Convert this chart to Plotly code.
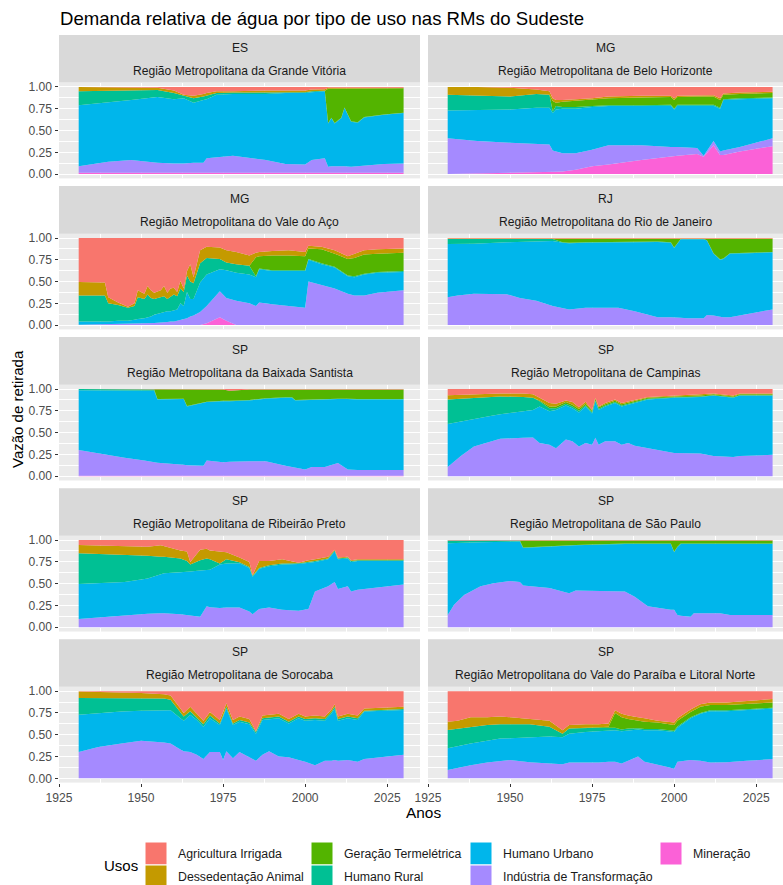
import plotly.graph_objects as go

# ---------------- data (shares of withdrawal by use) ----------------
USOS = ["Mineração", "Indústria de Transformação", "Humano Urbano", "Humano Rural",
        "Geração Termelétrica", "Dessedentação Animal", "Agricultura Irrigada"]
CORES = {"Agricultura Irrigada": "#F8766D", "Dessedentação Animal": "#C49A00",
         "Geração Termelétrica": "#53B400", "Humano Rural": "#00C094",
         "Humano Urbano": "#00B6EB", "Indústria de Transformação": "#A58AFF",
         "Mineração": "#FB61D7"}
X_TICKS = [1925, 1950, 1975, 2000, 2025]
Y_TICKS = [0.0, 0.25, 0.5, 0.75, 1.0]

# ES - Grande Vitória
VIT_ANOS = [1931, 1940, 1947, 1955, 1960, 1963, 1966, 1969, 1970, 1973, 1978, 1988, 1994, 2000, 2002, 2006, 2007, 2008, 2009, 2011, 2012, 2014, 2016, 2018, 2024, 2030]
VIT_MIN = [0.015, 0.015, 0.015, 0.015, 0.015, 0.015, 0.015, 0.015, 0.015, 0.015, 0.015, 0.015, 0.015, 0.015, 0.015, 0.015, 0.015, 0.015, 0.015, 0.015, 0.015, 0.015, 0.015, 0.015, 0.015, 0.015]
VIT_IND = [0.075, 0.125, 0.145, 0.115, 0.105, 0.105, 0.115, 0.115, 0.165, 0.175, 0.195, 0.145, 0.10, 0.095, 0.145, 0.165, 0.07, 0.075, 0.075, 0.08, 0.075, 0.07, 0.075, 0.085, 0.10, 0.105]
VIT_URB = [0.70, 0.68, 0.69, 0.755, 0.74, 0.75, 0.69, 0.72, 0.68, 0.72, 0.71, 0.76, 0.815, 0.82, 0.78, 0.77, 0.495, 0.55, 0.49, 0.545, 0.67, 0.515, 0.50, 0.55, 0.565, 0.58]
VIT_RUR = [0.16, 0.135, 0.11, 0.08, 0.07, 0.03, 0.05, 0.04, 0.04, 0.02, 0.015, 0.015, 0.01, 0.01, 0.01, 0.005, 0.005, 0.005, 0.005, 0.005, 0.005, 0.005, 0.005, 0.005, 0.005, 0.005]
VIT_TER = [0, 0, 0, 0, 0, 0, 0, 0, 0, 0, 0, 0, 0, 0, 0, 0, 0.395, 0.335, 0.395, 0.34, 0.22, 0.38, 0.39, 0.33, 0.30, 0.28]
VIT_DES = [0.05, 0.045, 0.035, 0.025, 0.03, 0.01, 0.03, 0.03, 0.03, 0.02, 0.015, 0.025, 0.02, 0.02, 0.02, 0.02, 0.01, 0.01, 0.01, 0.005, 0.005, 0.005, 0.005, 0.005, 0.005, 0.005]
VIT_AGR = [0, 0, 0.005, 0.01, 0.04, 0.09, 0.10, 0.08, 0.07, 0.05, 0.05, 0.04, 0.04, 0.04, 0.03, 0.025, 0.01, 0.01, 0.01, 0.01, 0.01, 0.01, 0.01, 0.01, 0.01, 0.01]

# MG - Belo Horizonte
BH_ANOS = [1931, 1940, 1950, 1958, 1962, 1963, 1964, 1966, 1970, 1975, 1980, 1990, 1999, 2000, 2001, 2007, 2009, 2012, 2014, 2015, 2020, 2030]
BH_MIN = [0.0, 0.005, 0.01, 0.015, 0.02, 0.02, 0.025, 0.03, 0.05, 0.09, 0.11, 0.16, 0.20, 0.21, 0.21, 0.23, 0.20, 0.33, 0.22, 0.22, 0.26, 0.32]
BH_IND = [0.41, 0.375, 0.35, 0.33, 0.32, 0.25, 0.235, 0.21, 0.19, 0.19, 0.22, 0.17, 0.11, 0.10, 0.10, 0.07, 0.01, 0.05, 0.04, 0.05, 0.05, 0.09]
BH_URB = [0.32, 0.355, 0.38, 0.415, 0.42, 0.43, 0.48, 0.51, 0.51, 0.49, 0.45, 0.45, 0.475, 0.43, 0.475, 0.485, 0.575, 0.405, 0.49, 0.58, 0.55, 0.46]
BH_RUR = [0.18, 0.165, 0.15, 0.16, 0.15, 0.02, 0.04, 0.02, 0.02, 0.01, 0.01, 0.01, 0.01, 0.01, 0.01, 0.01, 0.01, 0.01, 0.01, 0.01, 0.01, 0.01]
BH_TER = [0, 0, 0, 0, 0, 0.12, 0.04, 0.06, 0.07, 0.07, 0.08, 0.09, 0.09, 0.10, 0.09, 0.095, 0.095, 0.095, 0.09, 0.05, 0.05, 0.05]
BH_DES = [0.09, 0.10, 0.10, 0.05, 0.04, 0.03, 0.03, 0.02, 0.02, 0.02, 0.02, 0.02, 0.015, 0.02, 0.015, 0.015, 0.015, 0.015, 0.02, 0.015, 0.015, 0.015]
BH_AGR = [0, 0, 0.01, 0.03, 0.05, 0.13, 0.15, 0.15, 0.14, 0.13, 0.11, 0.10, 0.10, 0.13, 0.10, 0.095, 0.095, 0.095, 0.13, 0.075, 0.065, 0.055]

# MG - Vale do Aço
VDA_ANOS = [1931, 1939, 1940, 1943, 1946, 1948, 1949, 1951, 1952, 1953, 1954, 1956, 1957, 1958, 1959, 1960, 1961, 1962, 1963, 1964, 1965, 1966, 1968, 1970, 1974, 1976, 1979, 1983, 1985, 1986, 1990, 1995, 2000, 2001, 2005, 2009, 2013, 2015, 2018, 2022, 2030]
VDA_MIN = [0, 0, 0, 0, 0, 0, 0, 0, 0, 0, 0, 0, 0, 0, 0, 0, 0, 0, 0, 0, 0, 0, 0, 0.02, 0.09, 0.05, 0, 0, 0, 0, 0, 0, 0, 0, 0, 0, 0, 0, 0, 0, 0]
VDA_IND = [0.005, 0.01, 0.01, 0.012, 0.015, 0.015, 0.02, 0.02, 0.02, 0.025, 0.025, 0.03, 0.03, 0.035, 0.04, 0.04, 0.05, 0.06, 0.07, 0.08, 0.10, 0.11, 0.15, 0.20, 0.30, 0.26, 0.28, 0.25, 0.22, 0.26, 0.24, 0.22, 0.20, 0.50, 0.46, 0.42, 0.36, 0.34, 0.34, 0.37, 0.40]
VDA_URB = [0.035, 0.03, 0.03, 0.038, 0.035, 0.045, 0.05, 0.06, 0.07, 0.075, 0.095, 0.11, 0.12, 0.125, 0.12, 0.13, 0.13, 0.19, 0.15, 0.30, 0.20, 0.19, 0.34, 0.36, 0.25, 0.32, 0.32, 0.33, 0.33, 0.38, 0.38, 0.40, 0.42, 0.25, 0.24, 0.24, 0.20, 0.21, 0.24, 0.23, 0.21]
VDA_RUR = [0.30, 0.30, 0.21, 0.18, 0.15, 0.16, 0.25, 0.22, 0.26, 0.21, 0.18, 0.18, 0.18, 0.14, 0.17, 0.18, 0.15, 0.17, 0.16, 0.19, 0.20, 0.18, 0.22, 0.19, 0.12, 0.09, 0.10, 0.10, 0.01, 0.01, 0.01, 0.01, 0.01, 0.01, 0.01, 0.01, 0.01, 0.01, 0.01, 0.01, 0.01]
VDA_TER = [0, 0, 0, 0, 0, 0, 0, 0, 0, 0, 0, 0, 0, 0, 0, 0, 0, 0, 0, 0, 0, 0, 0, 0, 0, 0, 0, 0, 0.22, 0.14, 0.17, 0.17, 0.16, 0.12, 0.16, 0.15, 0.19, 0.21, 0.22, 0.21, 0.21]
VDA_DES = [0.155, 0.15, 0.07, 0.03, 0.01, 0.03, 0.08, 0.06, 0.10, 0.09, 0.07, 0.08, 0.12, 0.07, 0.09, 0.08, 0.05, 0.09, 0.04, 0.05, 0.20, 0.07, 0.15, 0.13, 0.13, 0.14, 0.14, 0.12, 0.05, 0.05, 0.05, 0.06, 0.05, 0.03, 0.03, 0.04, 0.03, 0.05, 0.05, 0.05, 0.05]
VDA_AGR = [0.505, 0.51, 0.68, 0.74, 0.79, 0.75, 0.60, 0.64, 0.55, 0.60, 0.63, 0.60, 0.55, 0.63, 0.58, 0.57, 0.62, 0.49, 0.58, 0.38, 0.30, 0.45, 0.14, 0.10, 0.11, 0.14, 0.16, 0.20, 0.17, 0.16, 0.15, 0.14, 0.16, 0.09, 0.10, 0.14, 0.21, 0.18, 0.14, 0.13, 0.12]

# RJ - Rio de Janeiro
RJ_ANOS = [1931, 1934, 1939, 1949, 1953, 1958, 1963, 1966, 1968, 1973, 1983, 1988, 1995, 1999, 2000, 2002, 2004, 2009, 2010, 2012, 2014, 2015, 2017, 2025, 2030]
RJ_MIN = [0, 0, 0, 0, 0, 0, 0, 0, 0, 0, 0, 0, 0, 0, 0, 0, 0, 0, 0, 0, 0, 0, 0, 0, 0]
RJ_IND = [0.32, 0.34, 0.36, 0.355, 0.31, 0.28, 0.22, 0.20, 0.18, 0.20, 0.20, 0.16, 0.09, 0.09, 0.09, 0.085, 0.08, 0.08, 0.115, 0.11, 0.095, 0.09, 0.09, 0.14, 0.18]
RJ_URB = [0.61, 0.59, 0.575, 0.595, 0.645, 0.68, 0.745, 0.745, 0.76, 0.745, 0.75, 0.795, 0.865, 0.855, 0.795, 0.90, 0.905, 0.905, 0.855, 0.71, 0.655, 0.67, 0.73, 0.69, 0.655]
RJ_RUR = [0.06, 0.06, 0.055, 0.04, 0.035, 0.03, 0.025, 0.005, 0.005, 0.005, 0.005, 0.005, 0.005, 0.005, 0.005, 0.005, 0.005, 0.005, 0.005, 0.005, 0.005, 0.005, 0.005, 0.005, 0.005]
RJ_TER = [0, 0, 0, 0, 0, 0, 0, 0.04, 0.045, 0.04, 0.035, 0.03, 0.03, 0.04, 0.10, 0.0, 0.0, 0.0, 0.015, 0.165, 0.235, 0.225, 0.165, 0.155, 0.15]
RJ_DES = [0.005, 0.005, 0.005, 0.005, 0.005, 0.005, 0.005, 0.005, 0.005, 0.005, 0.005, 0.005, 0.005, 0.005, 0.005, 0.005, 0.005, 0.005, 0.005, 0.005, 0.005, 0.005, 0.005, 0.005, 0.005]
RJ_AGR = [0.005, 0.005, 0.005, 0.005, 0.005, 0.005, 0.005, 0.005, 0.005, 0.005, 0.005, 0.005, 0.005, 0.005, 0.005, 0.005, 0.005, 0.005, 0.005, 0.005, 0.005, 0.005, 0.005, 0.005, 0.005]

# SP - Baixada Santista
BS_ANOS = [1931, 1937, 1945, 1951, 1954, 1955, 1963, 1964, 1969, 1970, 1975, 1977, 1983, 1988, 1994, 1996, 1997, 2000, 2002, 2006, 2010, 2013, 2016, 2030]
BS_MIN = [0.005, 0.005, 0.005, 0.005, 0.005, 0.005, 0.005, 0.005, 0.005, 0.005, 0.005, 0.005, 0.005, 0.005, 0.005, 0.005, 0.005, 0.005, 0.005, 0.005, 0.005, 0.005, 0.005, 0.005]
BS_IND = [0.295, 0.255, 0.205, 0.175, 0.155, 0.15, 0.125, 0.12, 0.115, 0.175, 0.155, 0.16, 0.165, 0.165, 0.115, 0.10, 0.09, 0.07, 0.10, 0.10, 0.145, 0.07, 0.065, 0.065]
BS_URB = [0.685, 0.725, 0.775, 0.805, 0.82, 0.725, 0.755, 0.675, 0.72, 0.67, 0.70, 0.695, 0.70, 0.72, 0.78, 0.795, 0.775, 0.80, 0.775, 0.78, 0.735, 0.81, 0.81, 0.81]
BS_RUR = [0.015, 0.015, 0.015, 0.015, 0.015, 0.005, 0.005, 0.005, 0.005, 0.005, 0.005, 0.005, 0.005, 0.005, 0.005, 0.005, 0.005, 0.005, 0.005, 0.005, 0.005, 0.005, 0.005, 0.005]
BS_TER = [0, 0, 0, 0, 0.005, 0.11, 0.105, 0.19, 0.15, 0.14, 0.13, 0.115, 0.12, 0.10, 0.09, 0.09, 0.12, 0.115, 0.11, 0.105, 0.105, 0.105, 0.11, 0.11]
BS_DES = [0, 0, 0, 0, 0, 0, 0, 0, 0, 0, 0, 0, 0, 0, 0, 0, 0, 0, 0, 0, 0, 0, 0, 0]
BS_AGR = [0, 0, 0, 0, 0, 0.005, 0.005, 0.005, 0.005, 0.005, 0.005, 0.02, 0.005, 0.005, 0.005, 0.005, 0.005, 0.005, 0.005, 0.005, 0.005, 0.005, 0.005, 0.005]

# SP - Campinas
CP_ANOS = [1931, 1935, 1939, 1944, 1947, 1954, 1957, 1959, 1962, 1964, 1967, 1969, 1971, 1973, 1975, 1976, 1977, 1979, 1982, 1984, 1986, 1988, 1992, 2000, 2008, 2012, 2018, 2020, 2030]
CP_MIN = [0, 0, 0, 0, 0, 0, 0, 0, 0, 0, 0, 0, 0, 0, 0, 0, 0, 0, 0, 0, 0, 0, 0, 0, 0, 0, 0, 0, 0]
CP_IND = [0.105, 0.23, 0.34, 0.40, 0.43, 0.44, 0.445, 0.38, 0.36, 0.32, 0.42, 0.40, 0.34, 0.38, 0.36, 0.44, 0.36, 0.40, 0.40, 0.36, 0.38, 0.35, 0.32, 0.265, 0.26, 0.23, 0.22, 0.23, 0.245]
CP_URB = [0.495, 0.40, 0.32, 0.29, 0.28, 0.305, 0.315, 0.42, 0.385, 0.44, 0.39, 0.38, 0.39, 0.42, 0.36, 0.42, 0.40, 0.40, 0.44, 0.44, 0.44, 0.49, 0.56, 0.635, 0.65, 0.695, 0.68, 0.695, 0.68]
CP_RUR = [0.28, 0.26, 0.24, 0.22, 0.205, 0.165, 0.14, 0.06, 0.035, 0.02, 0.02, 0.02, 0.02, 0.015, 0.015, 0.01, 0.015, 0.01, 0.01, 0.01, 0.01, 0.01, 0.01, 0.005, 0.005, 0.005, 0.005, 0.005, 0.005]
CP_TER = [0, 0, 0, 0, 0, 0, 0, 0.01, 0.02, 0.02, 0.02, 0.02, 0.02, 0.015, 0.015, 0.015, 0.015, 0.015, 0.015, 0.015, 0.015, 0.015, 0.01, 0.01, 0.01, 0.01, 0.01, 0.01, 0.01]
CP_DES = [0.05, 0.045, 0.04, 0.035, 0.035, 0.04, 0.04, 0.03, 0.04, 0.03, 0.02, 0.03, 0.02, 0.025, 0.01, 0.015, 0.01, 0.015, 0.015, 0.015, 0.015, 0.01, 0.01, 0.01, 0.01, 0.01, 0.01, 0.01, 0.01]
CP_AGR = [0.07, 0.065, 0.06, 0.055, 0.05, 0.05, 0.06, 0.10, 0.16, 0.17, 0.13, 0.15, 0.21, 0.145, 0.24, 0.10, 0.20, 0.16, 0.12, 0.16, 0.14, 0.125, 0.09, 0.075, 0.065, 0.05, 0.075, 0.05, 0.05]

# SP - Ribeirão Preto
RP_ANOS = [1931, 1939, 1945, 1952, 1956, 1957, 1962, 1964, 1965, 1968, 1970, 1971, 1974, 1976, 1980, 1983, 1984, 1986, 1989, 1993, 1998, 2001, 2003, 2007, 2009, 2010, 2013, 2014, 2016, 2030]
RP_MIN = [0, 0, 0, 0, 0, 0, 0, 0, 0, 0, 0, 0, 0, 0, 0, 0, 0, 0, 0, 0, 0, 0, 0, 0, 0, 0, 0, 0, 0, 0]
RP_IND = [0.095, 0.12, 0.14, 0.155, 0.16, 0.16, 0.15, 0.14, 0.135, 0.12, 0.24, 0.23, 0.22, 0.225, 0.225, 0.18, 0.15, 0.21, 0.225, 0.20, 0.19, 0.21, 0.41, 0.47, 0.52, 0.44, 0.47, 0.41, 0.43, 0.49]
RP_URB = [0.40, 0.385, 0.38, 0.405, 0.45, 0.46, 0.48, 0.50, 0.505, 0.53, 0.42, 0.43, 0.50, 0.505, 0.51, 0.50, 0.43, 0.46, 0.475, 0.52, 0.535, 0.53, 0.34, 0.31, 0.35, 0.34, 0.32, 0.34, 0.33, 0.27]
RP_RUR = [0.355, 0.335, 0.31, 0.26, 0.20, 0.19, 0.16, 0.12, 0.08, 0.12, 0.13, 0.12, 0.01, 0.05, 0.01, 0.01, 0.01, 0.01, 0.01, 0.01, 0.01, 0.01, 0.01, 0.01, 0.01, 0.01, 0.01, 0.01, 0.01, 0.01]
RP_TER = [0, 0, 0, 0, 0, 0, 0, 0, 0, 0, 0, 0, 0, 0, 0, 0, 0, 0, 0, 0, 0, 0, 0, 0, 0, 0, 0, 0, 0, 0]
RP_DES = [0.095, 0.095, 0.10, 0.105, 0.13, 0.12, 0.09, 0.11, 0.03, 0.12, 0.11, 0.10, 0.14, 0.08, 0.055, 0.06, 0.01, 0.08, 0.05, 0.05, 0.005, 0.02, 0.02, 0.02, 0.01, 0.01, 0.01, 0.01, 0.01, 0.01]
RP_AGR = [0.055, 0.065, 0.07, 0.075, 0.06, 0.07, 0.12, 0.13, 0.25, 0.11, 0.10, 0.12, 0.13, 0.14, 0.20, 0.25, 0.40, 0.24, 0.24, 0.22, 0.26, 0.23, 0.22, 0.19, 0.11, 0.20, 0.19, 0.23, 0.22, 0.22]

# SP - São Paulo
SP_ANOS = [1931, 1933, 1936, 1941, 1945, 1950, 1953, 1954, 1962, 1968, 1970, 1985, 1988, 1992, 1999, 2000, 2001, 2002, 2005, 2006, 2014, 2017, 2030]
SP_MIN = [0, 0, 0, 0, 0, 0, 0, 0, 0, 0, 0, 0, 0, 0, 0, 0, 0, 0, 0, 0, 0, 0, 0]
SP_IND = [0.14, 0.26, 0.37, 0.47, 0.505, 0.53, 0.52, 0.48, 0.45, 0.39, 0.42, 0.41, 0.35, 0.24, 0.20, 0.20, 0.14, 0.13, 0.12, 0.16, 0.16, 0.14, 0.14]
SP_URB = [0.825, 0.705, 0.60, 0.505, 0.475, 0.455, 0.465, 0.43, 0.475, 0.545, 0.52, 0.545, 0.605, 0.715, 0.755, 0.66, 0.78, 0.825, 0.835, 0.795, 0.795, 0.815, 0.815]
SP_RUR = [0.03, 0.03, 0.025, 0.02, 0.015, 0.01, 0.01, 0.005, 0.005, 0.005, 0.005, 0.005, 0.005, 0.005, 0.005, 0.005, 0.005, 0.005, 0.005, 0.005, 0.005, 0.005, 0.005]
SP_TER = [0, 0, 0, 0, 0, 0, 0, 0.08, 0.065, 0.055, 0.05, 0.035, 0.035, 0.035, 0.035, 0.13, 0.07, 0.035, 0.035, 0.035, 0.035, 0.035, 0.035]
SP_DES = [0, 0, 0, 0, 0, 0, 0, 0, 0, 0, 0, 0, 0, 0, 0, 0, 0, 0, 0, 0, 0, 0, 0]
SP_AGR = [0.005, 0.005, 0.005, 0.005, 0.005, 0.005, 0.005, 0.005, 0.005, 0.005, 0.005, 0.005, 0.005, 0.005, 0.005, 0.005, 0.005, 0.005, 0.005, 0.005, 0.005, 0.005, 0.005]

# SP - Sorocaba
SO_ANOS = [1931, 1937, 1944, 1950, 1957, 1959, 1962, 1963, 1965, 1967, 1969, 1971, 1974, 1975, 1976, 1978, 1980, 1983, 1985, 1987, 1989, 1992, 1995, 1998, 2000, 2003, 2006, 2008, 2009, 2010, 2013, 2016, 2018, 2030]
SO_MIN = [0, 0, 0, 0, 0, 0, 0, 0, 0, 0, 0, 0, 0, 0, 0, 0, 0, 0, 0, 0, 0, 0, 0, 0, 0, 0, 0, 0, 0, 0, 0, 0, 0, 0]
SO_IND = [0.30, 0.36, 0.40, 0.43, 0.41, 0.40, 0.33, 0.31, 0.30, 0.27, 0.22, 0.30, 0.30, 0.21, 0.31, 0.23, 0.30, 0.24, 0.20, 0.27, 0.31, 0.25, 0.24, 0.21, 0.19, 0.15, 0.20, 0.20, 0.21, 0.20, 0.21, 0.19, 0.22, 0.27]
SO_URB = [0.43, 0.39, 0.365, 0.345, 0.375, 0.38, 0.36, 0.35, 0.43, 0.40, 0.37, 0.39, 0.31, 0.49, 0.49, 0.38, 0.35, 0.38, 0.31, 0.40, 0.37, 0.44, 0.39, 0.48, 0.47, 0.52, 0.46, 0.54, 0.59, 0.46, 0.48, 0.48, 0.545, 0.515]
SO_RUR = [0.19, 0.17, 0.155, 0.145, 0.13, 0.12, 0.07, 0.05, 0.04, 0.03, 0.03, 0.03, 0.02, 0.02, 0.02, 0.02, 0.02, 0.02, 0.02, 0.02, 0.02, 0.02, 0.02, 0.02, 0.02, 0.02, 0.02, 0.02, 0.02, 0.02, 0.02, 0.02, 0.01, 0.01]
SO_TER = [0, 0, 0, 0, 0, 0, 0, 0, 0, 0, 0, 0, 0, 0, 0, 0, 0, 0, 0, 0, 0, 0, 0, 0, 0, 0, 0, 0, 0, 0, 0, 0, 0, 0]
SO_DES = [0.075, 0.07, 0.065, 0.06, 0.05, 0.05, 0.04, 0.04, 0.05, 0.04, 0.04, 0.04, 0.04, 0.04, 0.04, 0.04, 0.04, 0.04, 0.01, 0.03, 0.03, 0.03, 0.03, 0.03, 0.03, 0.03, 0.03, 0.03, 0.03, 0.03, 0.03, 0.03, 0.025, 0.025]
SO_AGR = [0.005, 0.01, 0.015, 0.02, 0.035, 0.05, 0.20, 0.25, 0.18, 0.26, 0.34, 0.24, 0.33, 0.24, 0.14, 0.33, 0.29, 0.32, 0.46, 0.28, 0.27, 0.26, 0.32, 0.26, 0.29, 0.28, 0.29, 0.21, 0.15, 0.29, 0.26, 0.28, 0.20, 0.18]

# SP - Vale do Paraíba e Litoral Norte
VP_ANOS = [1931, 1934, 1938, 1943, 1947, 1950, 1956, 1962, 1966, 1968, 1973, 1977, 1980, 1982, 1984, 1986, 1989, 1991, 1995, 1998, 2000, 2001, 2005, 2008, 2011, 2016, 2022, 2030]
VP_MIN = [0, 0, 0, 0, 0, 0, 0, 0, 0, 0, 0, 0, 0, 0, 0, 0, 0, 0, 0, 0, 0, 0, 0, 0, 0, 0, 0, 0]
VP_IND = [0.095, 0.12, 0.15, 0.18, 0.20, 0.21, 0.185, 0.17, 0.16, 0.18, 0.18, 0.18, 0.19, 0.19, 0.17, 0.20, 0.25, 0.19, 0.16, 0.13, 0.11, 0.19, 0.21, 0.20, 0.18, 0.185, 0.20, 0.22]
VP_URB = [0.25, 0.25, 0.25, 0.25, 0.255, 0.25, 0.285, 0.31, 0.31, 0.33, 0.35, 0.36, 0.355, 0.36, 0.37, 0.35, 0.31, 0.36, 0.39, 0.41, 0.42, 0.39, 0.48, 0.54, 0.59, 0.585, 0.58, 0.58]
VP_RUR = [0.21, 0.20, 0.19, 0.18, 0.165, 0.16, 0.15, 0.11, 0.04, 0.06, 0.05, 0.04, 0.035, 0.03, 0.02, 0.02, 0.015, 0.015, 0.015, 0.015, 0.015, 0.015, 0.01, 0.01, 0.01, 0.01, 0.01, 0.01]
VP_TER = [0, 0, 0, 0, 0, 0, 0, 0, 0, 0, 0, 0, 0.01, 0.17, 0.14, 0.11, 0.085, 0.085, 0.075, 0.065, 0.065, 0.065, 0.06, 0.07, 0.06, 0.06, 0.06, 0.06]
VP_DES = [0.095, 0.09, 0.11, 0.09, 0.09, 0.08, 0.06, 0.07, 0.04, 0.04, 0.04, 0.04, 0.04, 0.03, 0.04, 0.04, 0.04, 0.04, 0.02, 0.03, 0.03, 0.03, 0.03, 0.03, 0.03, 0.03, 0.04, 0.04]
VP_AGR = [0.35, 0.34, 0.30, 0.30, 0.29, 0.30, 0.32, 0.34, 0.45, 0.39, 0.38, 0.38, 0.37, 0.22, 0.26, 0.28, 0.30, 0.31, 0.34, 0.35, 0.36, 0.31, 0.21, 0.15, 0.13, 0.13, 0.11, 0.09]

PAINEIS = [
    ("ES", "Região Metropolitana da Grande Vitória", VIT_ANOS, [VIT_MIN, VIT_IND, VIT_URB, VIT_RUR, VIT_TER, VIT_DES, VIT_AGR]),
    ("MG", "Região Metropolitana de Belo Horizonte", BH_ANOS, [BH_MIN, BH_IND, BH_URB, BH_RUR, BH_TER, BH_DES, BH_AGR]),
    ("MG", "Região Metropolitana do Vale do Aço", VDA_ANOS, [VDA_MIN, VDA_IND, VDA_URB, VDA_RUR, VDA_TER, VDA_DES, VDA_AGR]),
    ("RJ", "Região Metropolitana do Rio de Janeiro", RJ_ANOS, [RJ_MIN, RJ_IND, RJ_URB, RJ_RUR, RJ_TER, RJ_DES, RJ_AGR]),
    ("SP", "Região Metropolitana da Baixada Santista", BS_ANOS, [BS_MIN, BS_IND, BS_URB, BS_RUR, BS_TER, BS_DES, BS_AGR]),
    ("SP", "Região Metropolitana de Campinas", CP_ANOS, [CP_MIN, CP_IND, CP_URB, CP_RUR, CP_TER, CP_DES, CP_AGR]),
    ("SP", "Região Metropolitana de Ribeirão Preto", RP_ANOS, [RP_MIN, RP_IND, RP_URB, RP_RUR, RP_TER, RP_DES, RP_AGR]),
    ("SP", "Região Metropolitana de São Paulo", SP_ANOS, [SP_MIN, SP_IND, SP_URB, SP_RUR, SP_TER, SP_DES, SP_AGR]),
    ("SP", "Região Metropolitana de Sorocaba", SO_ANOS, [SO_MIN, SO_IND, SO_URB, SO_RUR, SO_TER, SO_DES, SO_AGR]),
    ("SP", "Região Metropolitana do Vale do Paraíba e Litoral Norte", VP_ANOS, [VP_MIN, VP_IND, VP_URB, VP_RUR, VP_TER, VP_DES, VP_AGR]),
]

LEGENDA = [["Agricultura Irrigada", "Dessedentação Animal"],
           ["Geração Termelétrica", "Humano Rural"],
           ["Humano Urbano", "Indústria de Transformação"],
           ["Mineração"]]

# ---------------- layout geometry (pixels) ----------------
W, H = 783, 885
FONT = "Liberation Sans, Arial, sans-serif"
COLS = [(59.0, 420.0), (428.0, 783.0)]
PX_PER_YEAR = 361.0 / 110.0
ROW_PITCH = 151.05
SMALL = 12.1


def fx(p):
    return p / W


def fy(p):
    return 1 - p / H


fig = go.Figure()
shapes, annotations = [], []
layout_axes = {}

for k, (uf, nome, anos, valores) in enumerate(PAINEIS):
    row, col = divmod(k, 2)
    x0, x1 = COLS[col]
    ptop = 82.6 + ROW_PITCH * row
    pbot = 178.4 + ROW_PITCH * row
    stop = 35.0 + ROW_PITCH * row
    ax = "" if k == 0 else str(k + 1)
    xmax = 1925 + (x1 - x0) / PX_PER_YEAR
    bottom = row == 4
    left = col == 0
    layout_axes["xaxis" + ax] = dict(
        domain=[fx(x0), fx(x1)], range=[1925, xmax], anchor="y" + ax,
        tickvals=X_TICKS, showticklabels=bottom, ticks="outside" if bottom else "",
        ticklen=3.5, tickwidth=1, tickcolor="#333333",
        tickfont=dict(family=FONT, size=SMALL, color="#4D4D4D"),
        showgrid=True, gridcolor="white", gridwidth=1.1, zeroline=False, showline=False,
        minor=dict(dtick=12.5, tick0=1925, showgrid=True, gridcolor="white", gridwidth=0.5),
        fixedrange=True, automargin=False)
    layout_axes["yaxis" + ax] = dict(
        domain=[fy(pbot), fy(ptop)], range=[-0.05, 1.05], anchor="x" + ax,
        tickvals=Y_TICKS, tickformat=".2f", showticklabels=left,
        ticks="outside" if left else "", ticklen=3.5, tickwidth=1, tickcolor="#333333",
        tickfont=dict(family=FONT, size=SMALL, color="#4D4D4D"),
        showgrid=True, gridcolor="white", gridwidth=1.1, zeroline=False, showline=False,
        minor=dict(dtick=0.125, tick0=0, showgrid=True, gridcolor="white", gridwidth=0.5),
        fixedrange=True, automargin=False)

    for i, (uso, vals) in enumerate(zip(USOS, valores)):
        fig.add_trace(go.Scatter(
            x=anos, y=vals, name=uso, mode="lines",
            line=dict(width=0, color=CORES[uso]), fillcolor=CORES[uso],
            stackgroup="g%d" % k, groupnorm="fraction" if i == 0 else None,
            xaxis="x" + ax, yaxis="y" + ax, showlegend=False, hoverinfo="skip"))

    # facet strip
    shapes.append(dict(type="rect", xref="paper", yref="paper",
                       x0=fx(x0), x1=fx(x1), y0=fy(ptop), y1=fy(stop),
                       fillcolor="#D9D9D9", line=dict(width=0), layer="below"))
    xc = fx((x0 + x1) / 2)
    annotations.append(dict(text=uf, x=xc, y=fy(stop + 13.0), xref="paper", yref="paper",
                            showarrow=False, xanchor="center", yanchor="middle",
                            font=dict(family=FONT, size=SMALL, color="#1A1A1A")))
    annotations.append(dict(text=nome, x=xc, y=fy(stop + 36.0), xref="paper", yref="paper",
                            showarrow=False, xanchor="center", yanchor="middle",
                            font=dict(family=FONT, size=SMALL, color="#1A1A1A")))

# titles
annotations.append(dict(text="Demanda relativa de água por tipo de uso nas RMs do Sudeste",
                        x=fx(58), y=fy(18), xref="paper", yref="paper", showarrow=False,
                        xanchor="left", yanchor="middle", font=dict(family=FONT, size=18.6, color="black")))
annotations.append(dict(text="Vazão de retirada", x=fx(17), y=fy(409), xref="paper", yref="paper",
                        showarrow=False, textangle=-90, xanchor="center", yanchor="middle",
                        font=dict(family=FONT, size=15, color="black")))
annotations.append(dict(text="Anos", x=fx(423), y=fy(812), xref="paper", yref="paper",
                        showarrow=False, xanchor="center", yanchor="middle",
                        font=dict(family=FONT, size=15.4, color="black")))

# legend (drawn manually, column-major like ggplot)
annotations.append(dict(text="Usos", x=fx(102), y=fy(865), xref="paper", yref="paper",
                        showarrow=False, xanchor="left", yanchor="middle",
                        font=dict(family=FONT, size=15, color="black")))
KEY_X = [145, 311, 470, 660]
for c, grupo in enumerate(LEGENDA):
    for r, uso in enumerate(grupo):
        ky0 = 842 + 23 * r
        shapes.append(dict(type="rect", xref="paper", yref="paper",
                           x0=fx(KEY_X[c]), x1=fx(KEY_X[c] + 22), y0=fy(ky0 + 23), y1=fy(ky0),
                           fillcolor=CORES[uso], line=dict(width=1, color="white")))
        annotations.append(dict(text=uso, x=fx(KEY_X[c] + 31), y=fy(ky0 + 12),
                                xref="paper", yref="paper", showarrow=False,
                                xanchor="left", yanchor="middle",
                                font=dict(family=FONT, size=12.3, color="#1A1A1A")))

fig.update_layout(
    width=W, height=H, margin=dict(l=0, r=0, t=0, b=0, pad=0),
    paper_bgcolor="white", plot_bgcolor="#EBEBEB", template="none",
    font=dict(family=FONT, color="#1A1A1A"), showlegend=False,
    shapes=shapes, annotations=annotations, **layout_axes)

fig.write_html("out.html")
